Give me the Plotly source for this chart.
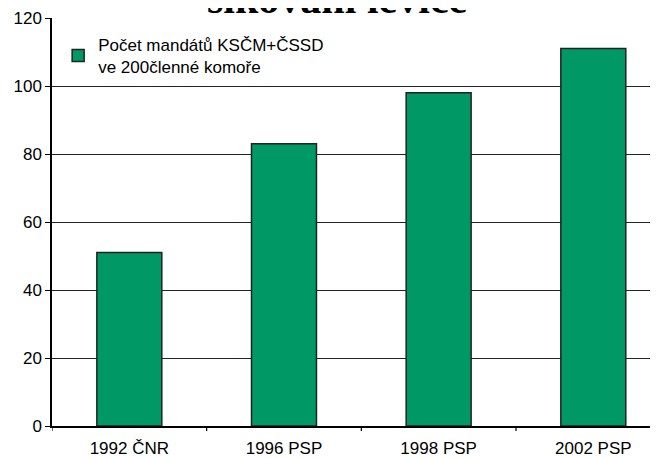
import plotly.graph_objects as go

categories = ["1992 ČNR", "1996 PSP", "1998 PSP", "2002 PSP"]
seats = [51, 83, 98, 111]
series_name = "Počet mandátů KSČM+ČSSD<br>ve 200členné komoře"
title_text = "šikování levice"
y_ticks = [0, 20, 40, 60, 80, 100, 120]

fig = go.Figure()
fig.add_trace(go.Bar(
    x=list(range(len(categories))), y=seats, name=series_name,
    width=0.42,
    marker=dict(color="#009966", line=dict(color="#222222", width=1.5)),
    showlegend=True,
))

fig.update_layout(
    width=658, height=458,
    margin=dict(l=44, r=0, t=10, b=40),
    paper_bgcolor="white", plot_bgcolor="white",
    font=dict(family="Liberation Sans, Arial", size=17, color="black"),
    showlegend=True,
    legend=dict(x=0.01, y=0.978, xanchor="left", yanchor="top",
                font=dict(size=17), bgcolor="rgba(0,0,0,0)",
                itemwidth=30, tracegroupgap=0),
)
fig.update_xaxes(
    tickmode="array", tickvals=list(range(len(categories))), ticktext=categories,
    range=[-0.5, 3.47], showgrid=False, ticks="", showline=True,
    linecolor="black", linewidth=1.5, zeroline=False, ticklabelstandoff=6,
)
fig.update_yaxes(
    range=[0, 120], tickvals=y_ticks, showgrid=True, gridcolor="#222222", gridwidth=1,
    showline=True, linecolor="black", linewidth=1.5, ticks="outside", ticklen=5,
    tickcolor="black", zeroline=False,
)
for b in [-0.5, 0.5, 1.5, 2.5]:
    fig.add_shape(type="line", xref="x", yref="paper", x0=b, x1=b, y0=0, y1=-0.012,
                  line=dict(color="black", width=1.2))
fig.add_annotation(
    text="<b>" + title_text + "</b>", xref="paper", yref="paper",
    x=0.464, y=1, xanchor="center", yanchor="bottom", yshift=-6,
    showarrow=False, font=dict(family="Liberation Serif, Times New Roman", size=42, color="black"),
)

fig.write_html("out.html")
